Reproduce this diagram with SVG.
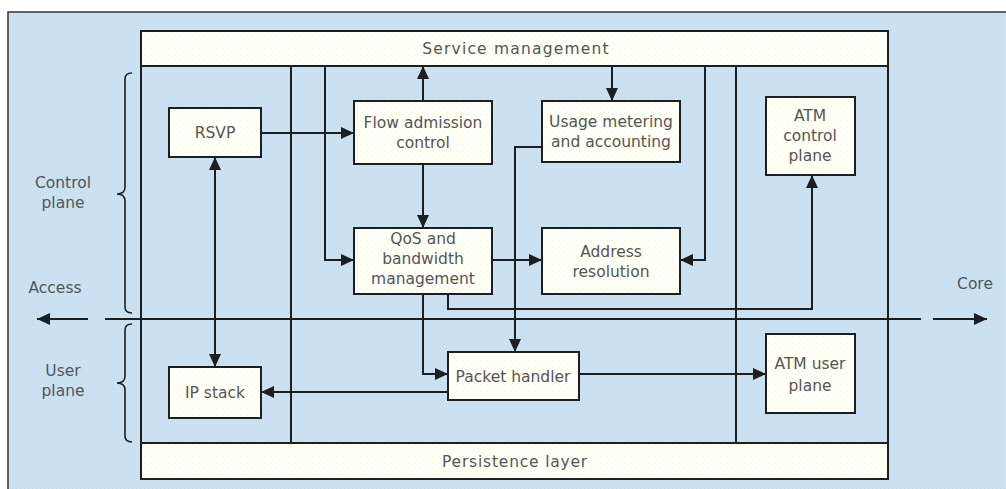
<svg xmlns="http://www.w3.org/2000/svg" width="1006" height="489" viewBox="0 0 1006 489">
  <defs>
    <pattern id="bgDots" width="4" height="4" patternUnits="userSpaceOnUse">
      <rect width="4" height="4" fill="#bfe9f0"/>
      <rect x="0" y="0" width="1" height="1" fill="#cdd2ea"/>
      <rect x="2" y="2" width="1" height="1" fill="#cdd2ea"/>
    </pattern>
    <pattern id="boxDots" width="6" height="6" patternUnits="userSpaceOnUse">
      <rect width="6" height="6" fill="#fffffa"/>
      <rect x="0" y="0" width="1" height="1" fill="#fbf6cf"/>
      <rect x="3" y="3" width="1" height="1" fill="#fbf6cf"/>
    </pattern>
    <marker id="arrow" markerUnits="userSpaceOnUse" markerWidth="14" markerHeight="12" refX="13" refY="6" orient="auto-start-reverse">
      <path d="M0,0 L13,6 L0,12 z" fill="#1e1e1e"/>
    </marker>
  </defs>
  <style>
    .box { fill: url(#boxDots); stroke: #1e1e1e; stroke-width: 2; }
    .frame { fill: none; stroke: #1e1e1e; stroke-width: 2; }
    .link { fill: none; stroke: #1e1e1e; stroke-width: 2; }
    .brace { fill: none; stroke: #1e1e1e; stroke-width: 1.6; }
    text { font-family: "DejaVu Sans", "Liberation Sans", sans-serif; font-size: 15.5px; fill: #555; text-anchor: middle; }
  </style>

  <!-- background panel -->
  <rect x="8" y="12" width="1000" height="480" fill="url(#bgDots)" stroke="#333" stroke-width="1.5"/>

  <!-- side labels and braces -->
  <g id="plane-labels">
    <text x="63" y="188">Control</text>
    <text x="63" y="208">plane</text>
    <text x="63" y="376">User</text>
    <text x="63" y="396">plane</text>
    <text x="55" y="293">Access</text>
    <text x="975" y="289">Core</text>
    <path class="brace" d="M132,73 q-7,0 -7,6 V187 q0,7 -8,7 q8,0 8,7 V307 q0,6 7,6"/>
    <path class="brace" d="M132,324 q-7,0 -7,6 V376 q0,7 -8,7 q8,0 8,7 V436 q0,6 7,6"/>
  </g>

  <!-- platform frame -->
  <g id="frame">
    <path class="frame" d="M141,66 V443 M888,66 V443 M291,66 V443 M736,66 V443"/>
  </g>

  <g id="service-management">
    <rect class="box" x="141" y="31" width="747" height="35"/>
    <text x="516" y="54" letter-spacing="1.2">Service management</text>
  </g>

  <g id="persistence-layer">
    <rect class="box" x="141" y="443" width="747" height="36"/>
    <text x="515" y="467" letter-spacing="0.8">Persistence layer</text>
  </g>

  <!-- connectors -->
  <g id="connectors">
    <path class="link" d="M105,319 H921"/>
    <path class="link" d="M88,319 H37" marker-end="url(#arrow)"/>
    <path class="link" d="M933,319 H987" marker-end="url(#arrow)"/>
    <path class="link" d="M261,133 H354" marker-end="url(#arrow)"/>
    <path class="link" d="M423,101 V66" marker-end="url(#arrow)"/>
    <path class="link" d="M612,66 V101" marker-end="url(#arrow)"/>
    <path class="link" d="M423,164 V228" marker-end="url(#arrow)"/>
    <path class="link" d="M325,66 V260 H354" marker-end="url(#arrow)"/>
    <path class="link" d="M492,260 H542" marker-end="url(#arrow)"/>
    <path class="link" d="M705,66 V260 H680" marker-end="url(#arrow)"/>
    <path class="link" d="M542,147 H515 V352" marker-end="url(#arrow)"/>
    <path class="link" d="M448,294 V309 H812 V175" marker-end="url(#arrow)"/>
    <path class="link" d="M423,294 V374 H448" marker-end="url(#arrow)"/>
    <path class="link" d="M448,392 H261" marker-end="url(#arrow)"/>
    <path class="link" d="M579,374 H766" marker-end="url(#arrow)"/>
    <path class="link" d="M215,157 V367" marker-start="url(#arrow)" marker-end="url(#arrow)"/>
  </g>

  <g id="rsvp">
    <rect class="box" x="169" y="108" width="92" height="49"/>
    <text x="215" y="138">RSVP</text>
  </g>

  <g id="flow-admission">
    <rect class="box" x="354" y="101" width="138" height="63"/>
    <text x="423" y="128">Flow admission</text>
    <text x="423" y="148">control</text>
  </g>

  <g id="usage-metering">
    <rect class="box" x="542" y="101" width="138" height="61"/>
    <text x="611" y="127">Usage metering</text>
    <text x="611" y="147">and accounting</text>
  </g>

  <g id="atm-control-plane">
    <rect class="box" x="766" y="97" width="89" height="78"/>
    <text x="810" y="121">ATM</text>
    <text x="810" y="141">control</text>
    <text x="810" y="161">plane</text>
  </g>

  <g id="qos-bandwidth">
    <rect class="box" x="354" y="228" width="138" height="66"/>
    <text x="423" y="244">QoS and</text>
    <text x="423" y="264">bandwidth</text>
    <text x="423" y="284">management</text>
  </g>

  <g id="address-resolution">
    <rect class="box" x="542" y="228" width="138" height="66"/>
    <text x="611" y="257">Address</text>
    <text x="611" y="277">resolution</text>
  </g>

  <g id="packet-handler">
    <rect class="box" x="448" y="352" width="131" height="48"/>
    <text x="513" y="382">Packet handler</text>
  </g>

  <g id="ip-stack">
    <rect class="box" x="169" y="367" width="92" height="51"/>
    <text x="215" y="398">IP stack</text>
  </g>

  <g id="atm-user-plane">
    <rect class="box" x="766" y="334" width="89" height="79"/>
    <text x="810" y="369">ATM user</text>
    <text x="810" y="391">plane</text>
  </g>
</svg>
